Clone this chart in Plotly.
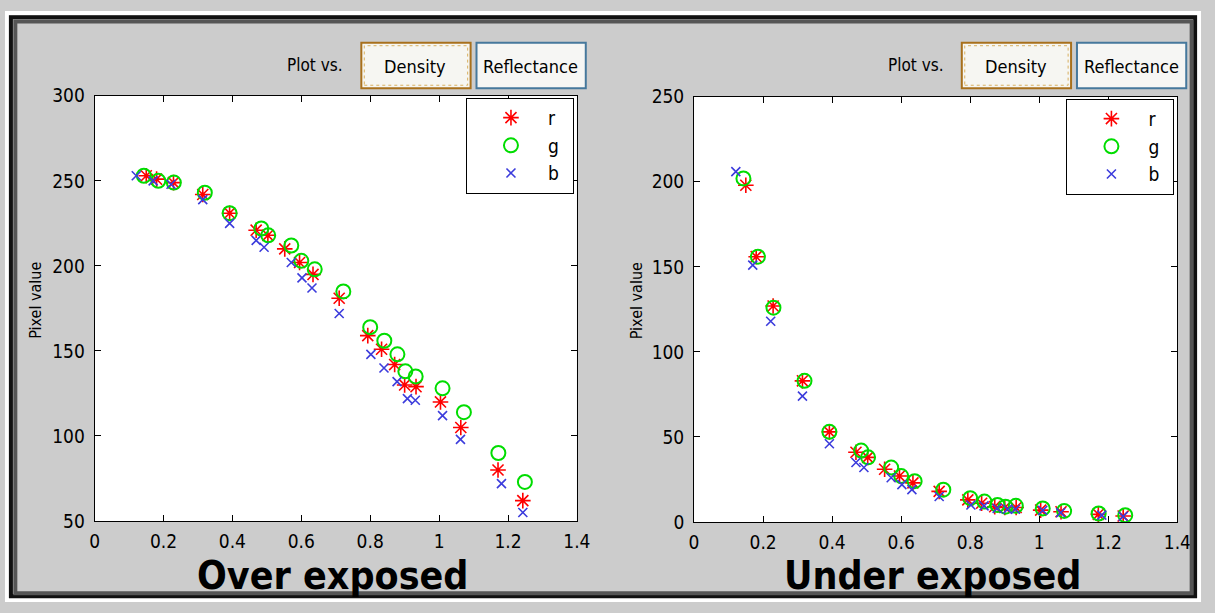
import plotly.graph_objects as go

W, H = 1215, 613

# Optical density of each colour patch, per channel
density_r = [0.150, 0.180, 0.229, 0.314, 0.392, 0.469, 0.503, 0.552, 0.595, 0.634,
             0.710, 0.793, 0.833, 0.871, 0.900, 0.933, 1.004, 1.063, 1.171, 1.243]
density_g = [0.143, 0.185, 0.230, 0.320, 0.392, 0.484, 0.504, 0.571, 0.600, 0.639,
             0.722, 0.800, 0.841, 0.879, 0.902, 0.932, 1.010, 1.072, 1.172, 1.249]
density_b = [0.121, 0.170, 0.222, 0.314, 0.392, 0.469, 0.492, 0.571, 0.602, 0.631,
             0.710, 0.802, 0.840, 0.878, 0.908, 0.931, 1.010, 1.062, 1.181, 1.243]

# Pixel values, over exposed capture
over_r = [253, 251, 249, 242, 231, 221, 218, 210, 202, 195, 181, 159, 151, 142, 130, 129, 120, 105, 80, 62]
over_g = [253, 250, 249, 243, 231, 222, 218, 212, 203, 198, 185, 164, 156, 148, 138, 135, 128, 114, 90, 73]
over_b = [253, 250, 248, 239, 225, 215, 211, 202, 193, 187, 172, 148, 140, 132, 122, 121, 112, 98, 72, 55]

# Pixel values, under exposed capture
under_r = [198, 156, 127, 83, 53, 41, 38, 31, 27, 23, 18, 13, 11, 9, 8.5, 8.5, 7, 6, 4.5, 3.5]
under_g = [202, 156, 126, 83, 53, 42, 38, 32, 27, 24, 19, 14, 12, 10, 9, 9.5, 8, 6.5, 5, 4]
under_b = [206, 151, 118, 74, 46, 35, 32, 26, 22, 19, 15, 10, 9.5, 8, 7.5, 7.5, 6.8, 5.5, 4, 3.3]

x_ticks = [0, 0.2, 0.4, 0.6, 0.8, 1, 1.2, 1.4]
x_ticktext = ["0", "0.2", "0.4", "0.6", "0.8", "1", "1.2", "1.4"]
over_yticks = [50, 100, 150, 200, 250, 300]
under_yticks = [0, 50, 100, 150, 200, 250]

channel_names = ["r", "g", "b"]
panel_titles = ["Over exposed", "Under exposed"]

NARROW = "DejaVu Sans Condensed, Liberation Sans Narrow, sans-serif"
BG = "#cccccc"


def px(x):
    return x / W


def py(y):
    return 1 - y / H


styles = {
    "r": dict(symbol="asterisk-open", size=13, color="#ff0000", line=dict(color="#ff0000", width=1.6)),
    "g": dict(symbol="circle-open", size=14, color="#00dd00", line=dict(color="#00dd00", width=2)),
    "b": dict(symbol="x-thin-open", size=9, color="#3c3cdc", line=dict(color="#3c3cdc", width=1.6)),
}

fig = go.Figure()

panels = [
    dict(xa="x", ya="y", legend="legend", dens=[density_r, density_g, density_b],
         vals=[over_r, over_g, over_b]),
    dict(xa="x2", ya="y2", legend="legend2", dens=[density_r, density_g, density_b],
         vals=[under_r, under_g, under_b]),
]

for p in panels:
    for name, xs, ys in zip(channel_names, p["dens"], p["vals"]):
        fig.add_trace(go.Scatter(
            x=xs, y=ys, mode="markers", name="\u2003" + name + "\u2002",
            marker=styles[name], xaxis=p["xa"], yaxis=p["ya"],
            legend=p["legend"],
        ))

# Axes boxes in pixels: (left, right, top, bottom)
boxes = [(91, 581, 88, 529), (700, 1191, 89, 530)]

axis_common = dict(
    showline=True, linecolor="black", linewidth=1, mirror="ticks",
    ticks="inside", ticklen=6, tickcolor="black", showgrid=False, zeroline=False,
    tickfont=dict(family=NARROW, size=19, color="black"),
)

layout = dict(
    width=W, height=H, margin=dict(l=0, r=0, t=0, b=0),
    paper_bgcolor=BG, plot_bgcolor="white",
    showlegend=True,
)

for i, (l, r, t, b) in enumerate(boxes):
    sfx = "" if i == 0 else "2"
    yt = over_yticks if i == 0 else under_yticks
    layout["xaxis" + sfx] = dict(
        axis_common, domain=[px(l), px(r)], range=[0, 1.4],
        tickvals=x_ticks, ticktext=x_ticktext, anchor="y" + sfx,
        ticklabelstandoff=3,
    )
    layout["yaxis" + sfx] = dict(
        axis_common, domain=[py(b), py(t)], range=[yt[0], yt[-1]],
        tickvals=yt, ticktext=[str(v) for v in yt], anchor="x" + sfx,
        ticklabelstandoff=5,
    )
    layout["legend" + sfx] = dict(
        x=px(r - 3), y=py(t + 2), xanchor="right", yanchor="top",
        bgcolor="white", bordercolor="black", borderwidth=1,
        font=dict(family=NARROW, size=19, color="black"),
        itemwidth=30, tracegroupgap=0, indentation=24,
    )

fig.update_layout(**layout)

shapes = []
annotations = []


def rect(x0, y0, x1, y1, color, width, fill="rgba(0,0,0,0)", dash="solid"):
    return dict(type="rect", xref="paper", yref="paper",
                x0=px(x0), x1=px(x1), y0=py(y1), y1=py(y0),
                line=dict(color=color, width=width, dash=dash), fillcolor=fill)


def label(text, x, y, size, angle=0):
    return dict(text=text, xref="paper", yref="paper", x=px(x), y=py(y),
                xanchor="center", yanchor="middle", showarrow=False, textangle=angle,
                font=dict(family=NARROW, size=size, color="black"))


# Window frame
shapes.append(rect(2, 2, W - 2, H - 2, "white", 4))
shapes.append(rect(6, 6.5, W - 6, H - 6, "#111111", 4))
shapes.append(rect(10.5, 11, W - 9.5, H - 9, "#555555", 4))

# Control buttons and captions per panel
for i, (l, r, t, b) in enumerate(boxes):
    off = 0 if i == 0 else 610
    shapes.append(rect(362 + off, 33, 473 + off, 80, "#a8701c", 2, fill="#f6f6f2"))
    shapes.append(rect(365 + off, 36, 470 + off, 77, "#d8b060", 1, dash="dot"))
    shapes.append(rect(479 + off, 33, 590 + off, 80, "#46789c", 2, fill="#f6f6f4"))
    annotations += [
        label("Plot vs.", 315 + off, 56, 17),
        label("Density", 417 + off, 58, 18),
        label("Reflectance", 534 + off, 58, 18),
        label("Pixel value", 31 + off, 300, 16, angle=-90),
        label("<b>" + panel_titles[i] + "</b>", (l + r) / 2 - 3, 586, 39),
    ]

fig.update_layout(shapes=shapes, annotations=annotations)
fig.write_html("out.html")
